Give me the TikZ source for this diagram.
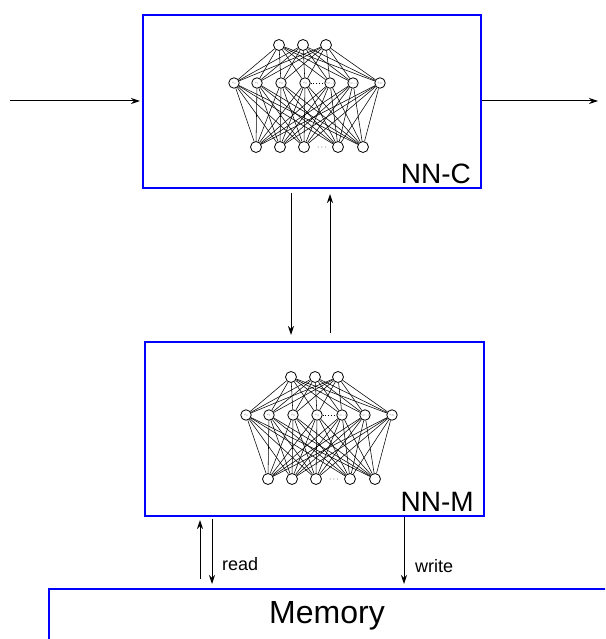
\documentclass[tikz,border=0pt]{standalone}
\usepackage{fontspec}
\setmainfont{Liberation Sans}
\usetikzlibrary{arrows.meta}

\tikzset{
  netbox/.style={draw=blue, line width=2pt, outer sep=0pt, inner sep=0pt},
  unit/.style={circle, draw, fill=white, line width=0.8pt, minimum size=11pt, inner sep=0pt},
  phiunit/.style={circle, draw, fill=white, line width=0.8pt, minimum size=10.5pt, inner sep=0pt,
    text=black!60, font=\tiny},
  wire/.style={line width=0.55pt},
  flow/.style={line width=1pt, -{Stealth[length=9pt,width=6pt]}},
}

% small network: 3 outputs, N+1 basis units, inputs
\newcommand{\drawnet}[1]{%
  \foreach \x [count=\i] in {279,303,326}
    \node[unit] (#1t\i) at (\x,45) {};
  \foreach \x/\lab [count=\i] in {234/0,257/1,281/2,305/3,330/{N-2},353/{N-1},380/N}
    \node[phiunit] (#1m\i) at (\x,83) {\scalebox{0.5}{$\phi_{\lab}$}};
  \foreach \x [count=\i] in {256,280,304,338,363}
    \node[unit] (#1b\i) at (\x,147) {};
  \foreach \i in {1,...,3}
    \foreach \j in {1,...,7}
      \draw[wire] (#1t\i) -- (#1m\j);
  \foreach \i in {1,...,7}
    \foreach \j in {1,...,5}
      \draw[wire] (#1m\i) -- (#1b\j);
  \draw[dotted, line width=0.8pt] (#1m4) -- (#1m5);
  \node[font=\fontsize{8}{8}\selectfont, inner sep=0pt] (#1dots) at (322,148) {$\cdots$};
}

\begin{document}
\begin{tikzpicture}[x=1pt, y=-1pt]
    \useasboundingbox (0,0) rectangle (605,639);
    \clip (0,0) rectangle (605,639);

    % controller and memory-access networks
    \node[netbox, minimum width=338pt, minimum height=173pt] (nnc) at (312,101.5) {};
    \node[netbox, minimum width=339pt, minimum height=174pt] (nnm) at (314.5,429) {};
    \drawnet{c}
    \begin{scope}[shift={(12,332)}]
        \drawnet{m}
    \end{scope}
    \node[font=\fontsize{28}{34}\selectfont, anchor=base east, inner sep=0pt] (nnclabel)
        at ([xshift=-10pt, yshift=5pt]nnc.south east) {NN-C};
    \node[font=\fontsize{28}{34}\selectfont, anchor=base east, inner sep=0pt] (nnmlabel)
        at ([xshift=-10pt, yshift=5pt]nnm.south east) {NN-M};

    % memory runs off the page
    \node[draw=blue, line width=1.2pt, outer sep=0pt, minimum width=600pt, minimum height=100pt] (mem)
        at (349,639) {};
    \node[font=\fontsize{32}{38}\selectfont, anchor=base, inner sep=0pt] (memtext) at (327,623) {Memory};

    \coordinate (inpt) at (10,101);
    \coordinate (outpt) at (598,101);
    \coordinate (down) at (291,0);
    \coordinate (up) at (330,0);
    \coordinate (rdup) at (200,0);
    \coordinate (rddn) at (212,0);
    \coordinate (wr) at (404,0);

    \draw[flow, shorten >=3pt] (inpt) -- (inpt -| nnc.west);
    \draw[flow, shorten <=1pt] (outpt -| nnc.east) -- (outpt);
    \draw[flow, shorten <=5pt, shorten >=7pt] (nnc.south -| down) -- (nnm.north -| down);
    \draw[flow, shorten <=9pt, shorten >=6pt] (nnm.north -| up) -- (nnc.south -| up);
    \draw[flow, shorten <=10pt, shorten >=4pt] (mem.north -| rdup) -- (nnm.south -| rdup);
    \draw[flow, shorten <=3pt, shorten >=5pt] (nnm.south -| rddn) -- (mem.north -| rddn);
    \draw[flow, shorten <=1pt, shorten >=5pt] (nnm.south -| wr) -- (mem.north -| wr);

    \node[font=\fontsize{18}{22}\selectfont, anchor=base west, inner sep=0pt] (readtext) at (222,570) {read};
    \node[font=\fontsize{18}{22}\selectfont, anchor=base west, inner sep=0pt] (writetext) at (415,572) {write};
\end{tikzpicture}
\end{document}
